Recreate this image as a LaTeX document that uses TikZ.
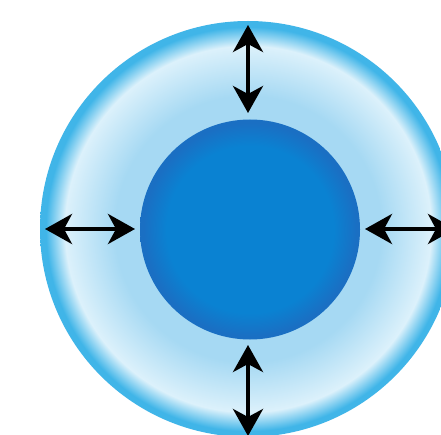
\documentclass[tikz,border=0pt]{standalone}
\usetikzlibrary{arrows.meta}
\definecolor{edgecyan}{HTML}{40B5E8}
\definecolor{lightblue}{HTML}{A6D9F3}
\definecolor{paleband}{HTML}{DCF1FB}
\definecolor{corecenter}{HTML}{0A82D2}
\definecolor{coreedge}{HTML}{1A6FC3}
\pgfdeclareradialshading{outershade}{\pgfpoint{0bp}{0bp}}{color(0bp)=(lightblue); color(16bp)=(lightblue); color(22bp)=(paleband); color(24.3bp)=(edgecyan); color(25bp)=(edgecyan); color(50bp)=(edgecyan)}
\pgfdeclareradialshading{coreshade}{\pgfpoint{0bp}{0bp}}{color(0bp)=(corecenter); color(19bp)=(corecenter); color(24.2bp)=(coreedge); color(25bp)=(coreedge); color(50bp)=(coreedge)}
\tikzset{
  tipshape/.tip={Stealth[length=27bp,width=30bp,inset=8bp]},
  dblarrow/.style={line width=4bp, black, tipshape-tipshape}
}
\begin{document}
\begin{tikzpicture}[x=1bp,y=-1bp]
\useasboundingbox (0,0) rectangle (441,435);
\clip (0,0) rectangle (441,435);
\fill[white] (0,0) rectangle (441,435);
\shade[shading=outershade] (248,229) circle[radius=208];
\shade[shading=coreshade] (250,229.5) circle[radius=110];
\coordinate (topA) at (248,25);
\coordinate (topB) at (248,113);
\coordinate (botA) at (248,345);
\coordinate (botB) at (248,436);
\coordinate (leftA) at (45,229);
\coordinate (leftB) at (135,229);
\coordinate (rightA) at (365,229);
\coordinate (rightB) at (455,229);
\draw[dblarrow] (topA) -- (topB);
\draw[dblarrow] (botA) -- (botB);
\draw[dblarrow] (leftA) -- (leftB);
\draw[dblarrow] (rightA) -- (rightB);
\end{tikzpicture}
\end{document}
